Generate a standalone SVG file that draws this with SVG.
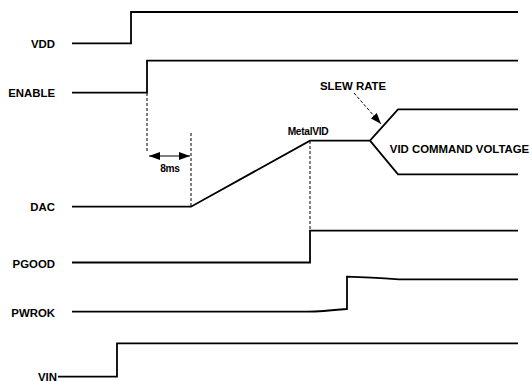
<svg xmlns="http://www.w3.org/2000/svg" width="532" height="381" viewBox="0 0 532 381">
<style>
.sig{fill:none;stroke:#000;stroke-width:1.8;stroke-linejoin:miter}
.dash{fill:none;stroke:#000;stroke-width:1;stroke-dasharray:3,2}
.lbl{font-family:"Liberation Sans",Arial,sans-serif;font-weight:bold;font-size:11.4px;fill:#000}
.lbl-s{font-family:"Liberation Sans",Arial,sans-serif;font-weight:bold;font-size:10.2px;fill:#000;letter-spacing:-0.3px}
</style>
<defs>
<marker id="ah" viewBox="0 0 11 8" refX="11" refY="4" markerWidth="11" markerHeight="8" markerUnits="userSpaceOnUse" orient="auto-start-reverse">
<path d="M0,0 L11,4 L0,8 Z" fill="#000"/>
</marker>
</defs>
<rect width="532" height="381" fill="#fff"/>
<g id="VDD">
<text class="lbl" x="55" y="47.5" text-anchor="end">VDD</text>
<path class="sig" d="M72,43.3 H131 V12 H518"/>
</g>
<g id="ENABLE">
<text class="lbl" x="55" y="97" text-anchor="end">ENABLE</text>
<path class="sig" d="M72,92.7 H147 V60.7 H518"/>
</g>
<g id="DAC">
<text class="lbl" x="55" y="210.5" text-anchor="end">DAC</text>
<path class="sig" d="M72,206.7 H191 L310,140.7 H370 L398,109.3 H518 M370,140.7 L398,174.3 H518"/>
</g>
<g id="PGOOD">
<text class="lbl" x="55" y="268" text-anchor="end">PGOOD</text>
<path class="sig" d="M72,262.5 H310 V230.7 H518"/>
</g>
<g id="PWROK">
<text class="lbl" x="55" y="316.5" text-anchor="end">PWROK</text>
<path class="sig" d="M72,311.7 H308 Q320,311.5 347,309 V276.7 Q370,277.5 399,279.3 H518"/>
</g>
<g id="VIN">
<text class="lbl" x="57" y="380.5" text-anchor="end">VIN</text>
<path class="sig" d="M58,376.7 H117 V343.3 H518"/>
</g>
<g id="annotations">
<text class="lbl-s" x="170" y="172" text-anchor="middle">8ms</text>
<text class="lbl" x="353" y="90" text-anchor="middle">SLEW RATE</text>
<text class="lbl-s" x="308" y="134.5" text-anchor="middle">MetalVID</text>
<text class="lbl" x="459.5" y="152.7" text-anchor="middle">VID COMMAND VOLTAGE</text>
</g>
<g id="connectors">
<path class="dash" d="M147,93 V151"/>
<path class="dash" d="M191,133 V206"/>
<path class="dash" d="M310,141 V230"/>
<line x1="149" y1="156" x2="190" y2="156" stroke="#000" stroke-width="1.2" marker-start="url(#ah)" marker-end="url(#ah)"/>
<line x1="354" y1="93" x2="381" y2="124" stroke="#000" stroke-width="1" stroke-dasharray="3,2" marker-end="url(#ah)"/>
</g>
</svg>
